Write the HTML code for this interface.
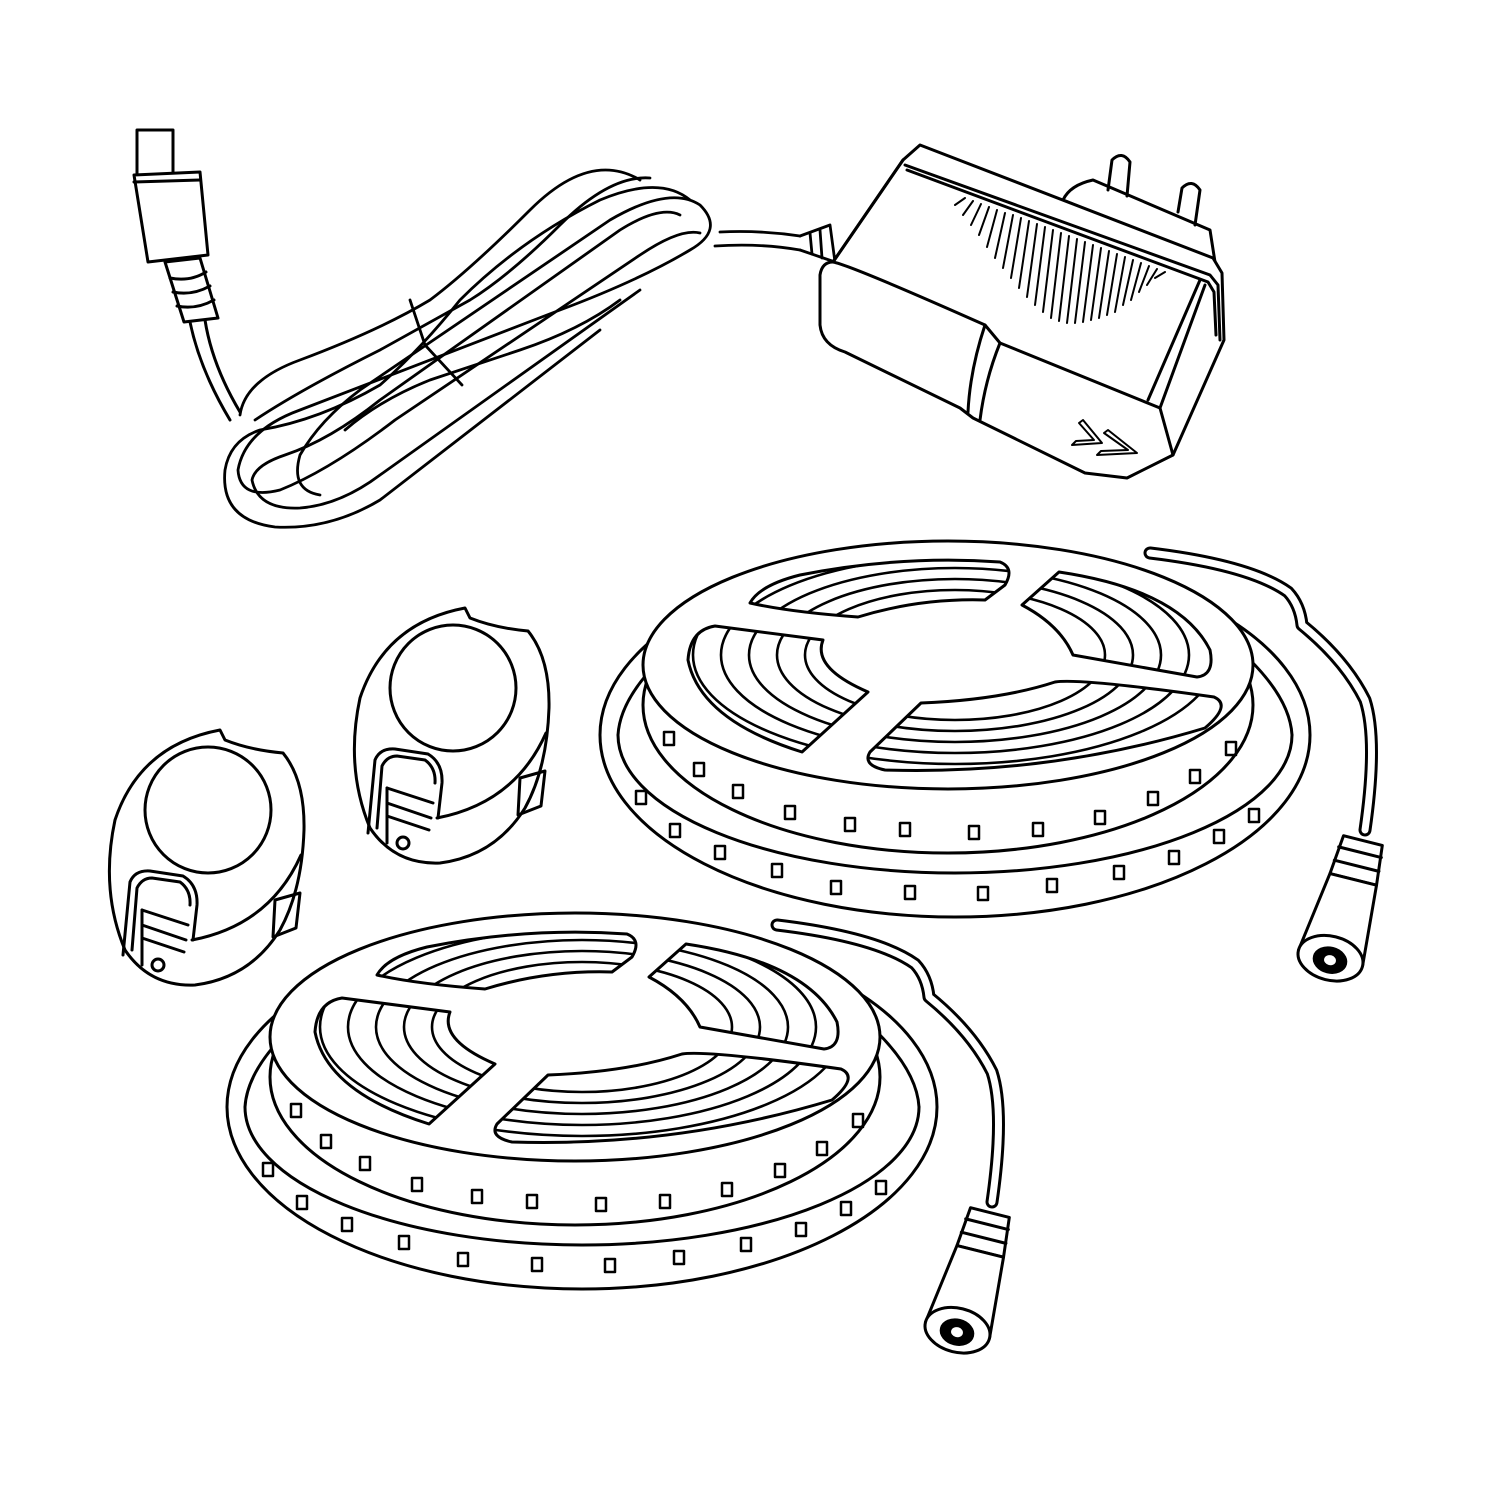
<!DOCTYPE html>
<html><head><meta charset="utf-8"><style>html,body{margin:0;padding:0;background:#fff}svg{display:block}</style></head>
<body>
<svg width="1500" height="1500" viewBox="0 0 1500 1500" xmlns="http://www.w3.org/2000/svg" fill="none" stroke="#000" stroke-width="3" stroke-linecap="round" stroke-linejoin="round">
<defs>
<clipPath id="cw"><path d="M750 603 Q760 585 800 575 Q900 555 1000 562 Q1015 568 1005 585 L985 600 Q920 598 858 617 Q790 612 750 603 Z M715 626 L823 640 Q812 668 868 692 L802 752 Q700 720 688 660 Q690 630 715 626 Z M1059 572 Q1180 590 1210 650 Q1215 675 1197 677 L1073 655 Q1060 625 1022 605 Z M921 703 Q1000 700 1055 682 Q1080 678 1214 697 Q1232 705 1205 728 Q1050 775 885 770 Q862 765 870 752 Z"/></clipPath>
<g id="reel">
  <path d="M1150 553 Q1250 565 1288 592 Q1300 605 1302 625 Q1345 660 1365 700 Q1378 740 1365 830" stroke-width="13"/>
  <path d="M1150 553 Q1250 565 1288 592 Q1300 605 1302 625 Q1345 660 1365 700 Q1378 740 1365 830" stroke="#fff" stroke-width="7"/>
  <ellipse cx="955" cy="735" rx="355" ry="182" fill="#fff"/>
  <path d="M618 735 A337 138 0 0 0 1292 735"/>
  <path d="M618 735 Q620 700 660 660"/>
  <path d="M1292 735 Q1290 700 1250 660"/>
  <g stroke-width="2.5">
  <rect x="636" y="791" width="10" height="13"/><rect x="670" y="824" width="10" height="13"/><rect x="715" y="846" width="10" height="13"/><rect x="772" y="864" width="10" height="13"/><rect x="831" y="881" width="10" height="13"/><rect x="905" y="886" width="10" height="13"/><rect x="978" y="887" width="10" height="13"/><rect x="1047" y="879" width="10" height="13"/><rect x="1114" y="866" width="10" height="13"/><rect x="1169" y="851" width="10" height="13"/><rect x="1214" y="830" width="10" height="13"/><rect x="1249" y="809" width="10" height="13"/>
  </g>
  <ellipse cx="948" cy="705" rx="305" ry="148" fill="#fff"/>
  <g stroke-width="2.5">
  <rect x="664" y="732" width="10" height="13"/><rect x="694" y="763" width="10" height="13"/><rect x="733" y="785" width="10" height="13"/><rect x="785" y="806" width="10" height="13"/><rect x="845" y="818" width="10" height="13"/><rect x="900" y="823" width="10" height="13"/><rect x="969" y="826" width="10" height="13"/><rect x="1033" y="823" width="10" height="13"/><rect x="1095" y="811" width="10" height="13"/><rect x="1148" y="792" width="10" height="13"/><rect x="1190" y="770" width="10" height="13"/><rect x="1226" y="742" width="10" height="13"/>
  </g>
  <ellipse cx="948" cy="665" rx="305" ry="124" fill="#fff"/>
  <path d="M750 603 Q760 585 800 575 Q900 555 1000 562 Q1015 568 1005 585 L985 600 Q920 598 858 617 Q790 612 750 603 Z M715 626 L823 640 Q812 668 868 692 L802 752 Q700 720 688 660 Q690 630 715 626 Z M1059 572 Q1180 590 1210 650 Q1215 675 1197 677 L1073 655 Q1060 625 1022 605 Z M921 703 Q1000 700 1055 682 Q1080 678 1214 697 Q1232 705 1205 728 Q1050 775 885 770 Q862 765 870 752 Z" fill="#fff"/>
  <g clip-path="url(#cw)" stroke-width="2.6">
    <ellipse cx="955" cy="655" rx="150" ry="65"/><ellipse cx="955" cy="655" rx="178" ry="76"/><ellipse cx="955" cy="655" rx="206" ry="87"/><ellipse cx="955" cy="655" rx="234" ry="98"/><ellipse cx="955" cy="655" rx="262" ry="109"/>
  </g>
  <g transform="rotate(14 1345 900)">
    <path d="M1328 838 L1368 838 L1372 878 L1324 878 Z" fill="#fff"/>
    <path d="M1326 850 L1370 850 M1325 864 L1371 864"/>
    <path d="M1324 878 L1372 878 L1378 960 L1312 960 Z" fill="#fff"/>
    <ellipse cx="1345" cy="960" rx="33" ry="22" fill="#fff"/>
    <ellipse cx="1345" cy="962" rx="16" ry="12" fill="#000"/>
    <ellipse cx="1345" cy="962" rx="6" ry="5" fill="#fff" stroke="none"/>
  </g>
</g>
<g id="puck">
  <path d="M220 730 Q140 745 115 820 Q100 890 125 950 Q150 987 195 985 Q250 978 280 930 Q302 890 304 830 Q305 780 283 753 Q250 750 225 740 Z" fill="#fff"/>
  <circle cx="208" cy="810" r="63"/>
  <path d="M301 855 Q270 925 192 940"/>
  <path d="M123 955 L130 882 Q135 870 150 871 L183 876 Q198 885 197 905 L193 940"/>
  <path d="M132 950 L137 888 Q142 878 152 878 L180 882 Q191 890 190 905"/>
  <path d="M142 910 L188 925 M142 925 L186 940 M142 938 L184 952"/>
  <path d="M142 910 L142 965"/>
  <circle cx="158" cy="965" r="6"/>
  <path d="M275 900 L300 893 L296 928 L273 937 Z"/>
</g>
</defs>

<use href="#reel"/>
<use href="#reel" transform="translate(-373 372)"/>
<use href="#puck"/>
<use href="#puck" transform="translate(245 -122)"/>

<g stroke-width="2.8">
  <path d="M700 233 Q680 228 640 255 L395 420 Q330 470 280 490 Q240 500 238 470 Q245 430 300 410 L560 310 Q640 280 690 250 Q725 230 700 205 Q670 185 610 220 L360 390 Q320 420 300 455 Q290 490 320 495"/>
  <path d="M690 200 Q660 175 600 200 Q520 240 460 300 Q420 350 380 385 Q320 420 260 430 Q230 440 225 470 Q220 520 275 527 Q330 530 380 500 L600 330"/>
  <path d="M640 180 Q590 150 530 210 Q470 270 430 300 Q380 330 300 360 Q245 380 240 415"/>
  <path d="M650 178 Q610 175 560 225 Q510 275 470 300 L380 350 Q300 390 255 420"/>
  <path d="M680 215 Q660 205 620 230 L380 400 Q330 440 285 455 Q255 465 252 480 Q258 510 300 508 Q340 505 380 475 L640 290"/>
  <path d="M620 300 Q580 330 520 350 L430 380 Q380 400 345 430"/>
  <path d="M410 300 L425 345 L462 385"/>
  <path d="M720 232 Q760 230 800 236"/>
  <path d="M715 246 Q760 243 800 250"/>
  <path d="M800 236 L830 225 L835 262 L800 250"/>
  <path d="M810 233 L812 254 M820 230 L822 258"/>
</g>

<g stroke-width="3">
  <path d="M190 322 Q200 370 230 420" />
  <path d="M205 320 Q212 365 240 412" />
  <rect x="137" y="130" width="36" height="45" fill="#fff"/>
  <path d="M134 175 L200 172 L208 255 L148 262 Z" fill="#fff"/>
  <path d="M134 182 L200 180"/>
  <path d="M165 262 L200 258 L218 318 L184 322 Z" fill="#fff"/>
  <path d="M170 278 Q190 282 206 272 M173 292 Q192 296 210 286 M177 306 Q196 310 214 300"/>
</g>

<g stroke-width="3">
  <path d="M1063 200 Q1070 185 1093 180 L1210 230 L1215 262 Z" fill="#fff"/>
  <path d="M1108 190 L1112 160 Q1122 150 1130 162 L1127 196"/>
  <path d="M1178 212 L1182 188 Q1192 178 1200 190 L1195 225"/>
  <path d="M903 160 L920 145 L1213 258 L1222 273 L1224 340 L1173 455 L1127 478 L1085 473 L973 418 L960 408 L845 352 Q822 345 820 325 L820 275 Q822 262 833 262 Z" fill="#fff"/>
  <path d="M903 160 L833 262"/>
  <path d="M905 165 L1210 275 L1218 285 L1220 340"/>
  <path d="M907 170 L1208 282 L1214 292 L1216 335"/>
  <path d="M833 262 Q850 265 985 325 L1000 343 L1160 408 L1173 455"/>
  <path d="M1160 408 L1205 285"/>
  <path d="M1148 400 L1200 280"/>
  <path d="M985 325 Q970 370 968 412"/>
  <path d="M1000 343 Q985 380 980 420"/>
  <g stroke-width="2">
    <path d="M965 198 L955 205 M973 201 L963 215 M981 204 L971 225 M989 207 L979 235 M997 210 L987 247 M1005 213 L995 258 M1013 215 L1003 268 M1021 218 L1011 278 M1029 221 L1019 288 M1037 224 L1027 297 M1045 227 L1035 305 M1053 230 L1043 312 M1061 233 L1051 318 M1069 236 L1059 321 M1077 239 L1067 323 M1085 242 L1075 323 M1093 245 L1083 322 M1101 248 L1091 320 M1109 251 L1099 318 M1117 254 L1107 315 M1125 257 L1115 312 M1133 260 L1123 305 M1141 263 L1131 300 M1149 266 L1139 292 M1157 269 L1147 285 M1165 272 L1155 278"/>
  </g>
  <path d="M1083 420 L1102 443 L1072 445 L1076 441 L1094 440 L1079 423 Z" stroke-width="2"/>
  <path d="M1108 430 L1137 453 L1097 455 L1101 451 L1128 450 L1104 433 Z" stroke-width="2"/>
</g>
</svg>
</body></html>
